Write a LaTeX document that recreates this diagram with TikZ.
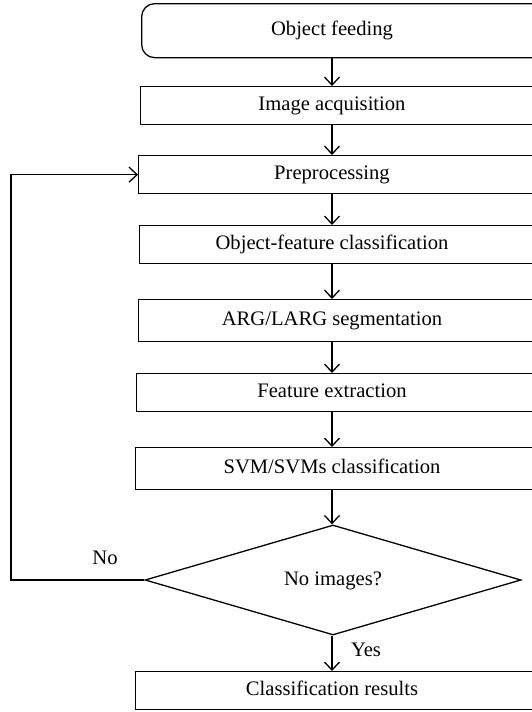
\documentclass[tikz,border=0pt]{standalone}
\usepackage{fontspec}
\setmainfont{Liberation Serif}
\usetikzlibrary{arrows.meta,shapes.geometric}
\begin{document}
\begin{tikzpicture}[x=1pt,y=-1pt,
  line width=1.3pt,
  stepbox/.style={draw, rectangle, anchor=north west, inner sep=0pt, minimum width=420pt},
  startbox/.style={stepbox, rounded corners=13pt},
  lbl/.style={inner sep=0pt, font=\fontsize{20.6}{24}\selectfont, text height=14.5pt, text depth=4.5pt},
  decision/.style={draw, diamond, aspect=3.4, inner sep=0pt, font=\fontsize{20.6}{24}\selectfont,
    text height=14.5pt, text depth=4.5pt, minimum width=376pt, minimum height=110pt},
  arr/.style={-{Straight Barb[length=8pt,width=15pt]}},
]
\useasboundingbox (0,0) rectangle (532,712);
\clip (0,0) rectangle (532,712);

% process steps
\node[startbox, minimum height=54pt] (b1) at (141,3) {};
\node[lbl] (t1) at (332,30) {Object feeding};
\node[stepbox, minimum height=38pt] (b2) at (140,86) {};
\node[lbl] (t2) at (332,105) {Image acquisition};
\node[stepbox, minimum height=38pt] (b3) at (138,155) {};
\node[lbl] (t3) at (332,174) {Preprocessing};
\node[stepbox, minimum height=38pt] (b4) at (139,225) {};
\node[lbl] (t4) at (332,244) {Object-feature classification};
\node[stepbox, minimum height=42pt] (b5) at (138,299) {};
\node[lbl] (t5) at (332,320) {ARG/LARG segmentation};
\node[stepbox, minimum height=38pt] (b6) at (136,373) {};
\node[lbl] (t6) at (332,392) {Feature extraction};
\node[stepbox, minimum height=42pt] (b7) at (135,447) {};
\node[lbl] (t7) at (332,468) {SVM/SVMs classification};
\node[decision] (dia) at (333,580) {No images?};
\node[stepbox, minimum height=38pt] (b8) at (135,671) {};
\node[lbl] (t8) at (332,690) {Classification results};

% flow
\draw[arr] (b1.south -| t1) -- (b2.north -| t1);
\draw[arr] (b2.south -| t2) -- (b3.north -| t2);
\draw[arr] (b3.south -| t3) -- (b4.north -| t3);
\draw[arr] (b4.south -| t4) -- (b5.north -| t4);
\draw[arr] (b5.south -| t5) -- (b6.north -| t5);
\draw[arr] (b6.south -| t6) -- (b7.north -| t6);
\draw[arr] (b7.south -| t7) -- (dia.north -| t7);
\draw[arr] (dia.south -| t8) -- (b8.north -| t8);

% loop back
\coordinate (fb) at (11,580);
\draw[arr] (dia.west) -- (fb) |- (b3.west);

% branch labels
\node[lbl] (no) at (105,559) {No};
\node[lbl] (yes) at (366,651) {Yes};
\end{tikzpicture}
\end{document}
